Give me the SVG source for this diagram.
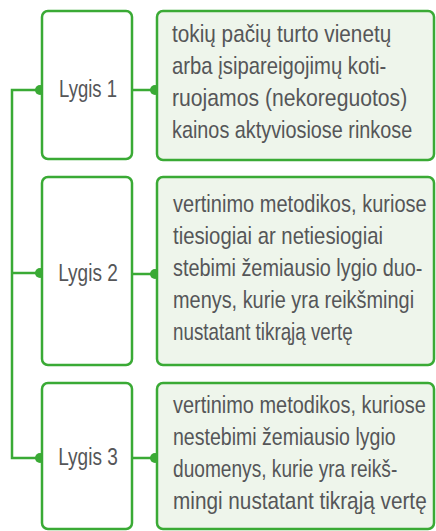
<svg xmlns="http://www.w3.org/2000/svg" width="436" height="531" viewBox="0 0 436 531">
<style>
.lbox{fill:#ffffff;stroke:#3aaa35;stroke-width:2.5}
.rbox{fill:#eef5eb;stroke:#3aaa35;stroke-width:2.5}
.conn{fill:none;stroke:#3aaa35;stroke-width:2.5}
.dot{fill:#3aaa35}
text{font-family:"Liberation Sans",Arial,sans-serif;font-size:24px;fill:#555658}
.lbl{text-anchor:middle}
</style>
<rect width="436" height="531" fill="#ffffff"/>
<g id="connectors">
<path class="conn" d="M40,90 H12 V458 H40"/>
<path class="conn" d="M12,273 H40"/>
<path class="conn" d="M132,90 H156"/>
<path class="conn" d="M132,274 H156"/>
<path class="conn" d="M132,458 H156"/>
<circle class="dot" cx="40" cy="90" r="5"/>
<circle class="dot" cx="40" cy="273" r="5"/>
<circle class="dot" cx="40" cy="458" r="5"/>
<circle class="dot" cx="155" cy="90" r="5"/>
<circle class="dot" cx="155" cy="274" r="5"/>
<circle class="dot" cx="155" cy="458" r="5"/>
</g>
<g id="lygis1">
<rect class="lbox" x="42" y="11" width="90" height="148" rx="6"/>
<g transform="translate(88 0) scale(0.84 1)"><text class="lbl" x="0" y="97" textLength="69" lengthAdjust="spacingAndGlyphs">Lygis 1</text></g>
</g>
<g id="lygis2">
<rect class="lbox" x="42" y="177" width="90" height="188" rx="6"/>
<g transform="translate(88 0) scale(0.84 1)"><text class="lbl" x="0" y="281" textLength="71" lengthAdjust="spacingAndGlyphs">Lygis 2</text></g>
</g>
<g id="lygis3">
<rect class="lbox" x="42" y="383" width="90" height="146" rx="6"/>
<g transform="translate(88 0) scale(0.84 1)"><text class="lbl" x="0" y="465" textLength="71" lengthAdjust="spacingAndGlyphs">Lygis 3</text></g>
</g>
<g id="desc1">
<rect class="rbox" x="157" y="11" width="277" height="149" rx="6"/>
<g transform="translate(172 0) scale(0.84 1)">
<text x="0" y="42" textLength="261" lengthAdjust="spacingAndGlyphs">tokių pačių turto vienetų</text>
<text x="0" y="74" textLength="255" lengthAdjust="spacingAndGlyphs">arba įsipareigojimų koti-</text>
<text x="0" y="106" textLength="280" lengthAdjust="spacingAndGlyphs">ruojamos (nekoreguotos)</text>
<text x="0" y="138" textLength="286" lengthAdjust="spacingAndGlyphs">kainos aktyviosiose rinkose</text>
</g>
</g>
<g id="desc2">
<rect class="rbox" x="157" y="177" width="277" height="188" rx="6"/>
<g transform="translate(173 0) scale(0.84 1)">
<text x="0" y="212" textLength="302" lengthAdjust="spacingAndGlyphs">vertinimo metodikos, kuriose</text>
<text x="0" y="244" textLength="250" lengthAdjust="spacingAndGlyphs">tiesiogiai ar netiesiogiai</text>
<text x="0" y="276" textLength="297" lengthAdjust="spacingAndGlyphs">stebimi žemiausio lygio duo-</text>
<text x="0" y="308" textLength="287" lengthAdjust="spacingAndGlyphs">menys, kurie yra reikšmingi</text>
<text x="0" y="340" textLength="214" lengthAdjust="spacingAndGlyphs">nustatant tikrąją vertę</text>
</g>
</g>
<g id="desc3">
<rect class="rbox" x="157" y="383" width="277" height="146" rx="6"/>
<g transform="translate(173 0) scale(0.84 1)">
<text x="0" y="413" textLength="301" lengthAdjust="spacingAndGlyphs">vertinimo metodikos, kuriose</text>
<text x="0" y="445" textLength="265" lengthAdjust="spacingAndGlyphs">nestebimi žemiausio lygio</text>
<text x="0" y="477" textLength="267" lengthAdjust="spacingAndGlyphs">duomenys, kurie yra reikš-</text>
<text x="0" y="509" textLength="302" lengthAdjust="spacingAndGlyphs">mingi nustatant tikrąją vertę</text>
</g>
</g>
</svg>
